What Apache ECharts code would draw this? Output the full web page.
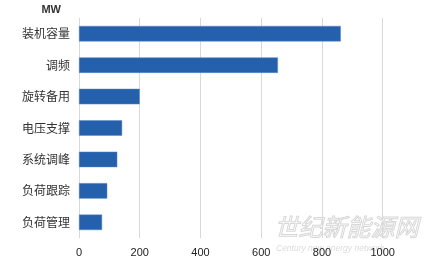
<!DOCTYPE html>
<html><head><meta charset="utf-8">
<script src="https://cdn.jsdelivr.net/npm/echarts@6/dist/echarts.min.js"></script>
<style>html,body{margin:0;padding:0;background:#fff}#c{width:428px;height:273px}</style>
</head><body><div id="c"></div>
<script>
const categories = ["装机容量","调频","旋转备用","电压支撑","系统调峰","负荷跟踪","负荷管理"];
const values = [862, 655, 200, 142, 126, 93, 76];
const xTicks = [0, 200, 400, 600, 800, 1000];
const unitLabel = "MW";

const chart = echarts.init(document.getElementById('c'), null, {renderer:'canvas'});
chart.setOption({
  animation:false,
  grid:{left:79, right:45.3, top:18, bottom:35, containLabel:false},
  xAxis:{type:'value', min:xTicks[0], max:xTicks[xTicks.length-1], interval:200,
    axisLine:{show:false}, axisTick:{show:false},
    splitLine:{show:true, lineStyle:{color:'#d9d9d9', width:1}},
    axisLabel:{color:'#222', fontSize:11, margin:9, formatter:v=>String(v), fontFamily:'Liberation Sans, Arial, sans-serif'}},
  yAxis:{type:'category', data:categories, inverse:true,
    name:unitLabel, nameLocation:'start', nameGap:3,
    nameTextStyle:{color:'#333', fontSize:11, fontWeight:'bold', align:'right', verticalAlign:'bottom', padding:[0,18,0,0], fontFamily:'Liberation Sans, Arial, sans-serif'},
    axisLine:{show:false}, axisTick:{show:false},
    axisLabel:{color:'#333', fontSize:12, margin:9, fontFamily:'Noto Sans CJK SC, sans-serif'}},
  series:[{type:'bar', data:values, barWidth:15.5,
    itemStyle:{color:'#2560ad', borderColor:'#5b86c4', borderWidth:0.5}}],
  graphic:[
    {type:'text', left:274, top:214, style:{text:'世纪新能源网', fill:'rgba(0,0,0,0)', stroke:'#d8d8d8', lineWidth:1, font:'italic 24px "Noto Sans CJK SC"'}, silent:true},
    {type:'text', left:276, top:244, style:{text:'Century new energy network', fill:'#dcdcdc', font:'italic 8.5px "Liberation Sans"'}, silent:true}
  ]
});
</script></body></html>
